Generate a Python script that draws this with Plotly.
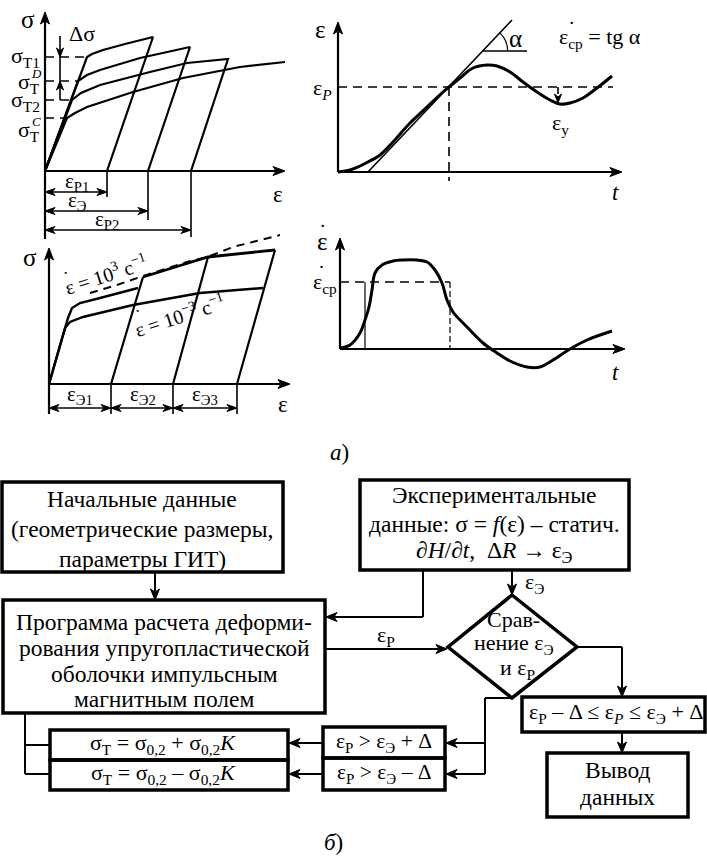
import math
import plotly.graph_objects as go

W, H = 707, 857
FONT = "Liberation Serif, Times New Roman, Times, serif"

# ---------------- data (panel-local units, origin at axis crossing) ----------------
# Panel a1: loading / unloading sigma-epsilon curves
a1_levels = {"T1": 114, "D": 90, "T2": 71, "C": 53}
a1_yield_x = {"T1": 42, "D": 33, "T2": 27, "C": 22}
a1_eps_marks = [62, 103, 146]          # eps_P1, eps_E, eps_P2
a1_c1_x = [0, 42, 47, 58, 80, 108, 62]
a1_c1_y = [0, 114, 117, 121, 127, 134, 0]
a1_c2_x = [0, 33, 42, 55, 95, 145, 103]
a1_c2_y = [0, 90, 96, 101, 113, 124, 0]
a1_c3_x = [0, 27, 36, 55, 105, 142, 183, 146]
a1_c3_y = [0, 71, 78, 86, 99, 108, 112, 0]
a1_c4_x = [0, 22, 30, 42, 88, 138, 195, 240]
a1_c4_y = [0, 53, 58, 64, 79, 93, 104, 109]

# Panel a2: strain vs time
a2_eps_P = 85
a2_t_P = 111
a2_curve_x = [0, 12, 22, 30, 42, 55, 72, 89, 105, 111, 122, 135, 149, 159, 172, 185, 199, 212, 222, 232, 245, 259, 274]
a2_curve_y = [0, 2, 6, 10, 17, 30, 49, 65, 80, 85, 94, 104, 107, 106, 100, 90, 80, 72, 68, 69, 74, 84, 96]
a2_tangent_x = [30, 174]
a2_tangent_y = [0, 152]

# Panel a3: static / dynamic curves with rate jumps
a3_eps_marks = [62, 124, 188]
a3_up_x = [0, 19, 23, 31, 51, 71, 89]
a3_up_y = [0, 66, 76, 81, 86, 91, 96]
a3_low_x = [0, 16, 21, 34, 84, 151, 214]
a3_low_y = [0, 56, 62, 67, 79, 91, 96]
a3_top_x = [94, 159, 226]
a3_top_y = [107, 127, 134]
a3_dash_x = [41, 68, 91, 138, 158, 184, 231]
a3_dash_y = [91, 99, 107, 122, 127, 137, 149]
a3_unload_top_x = [94, 159, 226]
a3_unload_top_y = [107, 127, 134]

# Panel a4: strain rate vs time
a4_rate_avg = 67
a4_t1, a4_t2 = 25, 110
a4_curve_x = [0, 10, 20, 25, 29, 32, 35, 42, 53, 63, 77, 87, 95, 102, 107, 113, 127, 143, 157, 170, 187, 200, 213, 230, 247, 272]
a4_curve_y = [1, 4, 16, 29, 42, 59, 76, 84, 88, 89, 89, 87, 79, 66, 49, 37, 22, 6, -4, -12, -18, -18, -11, 0, 9, 18]

# ---------------- helpers ----------------
shapes, annotations, traces = [], [], []
heads = {}


def line(ref, x0, y0, x1, y1, w=2.0, dash="solid"):
    shapes.append(dict(type="line", xref=ref[0], yref=ref[1], x0=x0, y0=y0, x1=x1, y1=y1,
                       line=dict(color="black", width=w, dash=dash), layer="above"))


def head(ref, tx, ty, dx, dy, L=10, hw=4.0):
    n = math.hypot(dx, dy)
    dx, dy = dx / n, dy / n
    bx, by = tx - dx * L, ty - dy * L
    px, py = -dy, dx
    xs, ys = heads.setdefault(ref, ([], []))
    xs += [tx, bx + px * hw, bx + dx * 3, bx - px * hw, tx, None]
    ys += [ty, by + py * hw, by + dy * 3, by - py * hw, ty, None]


def arrow(ref, x0, y0, x1, y1, w=2.0, L=11, hw=4.5):
    dx, dy = x1 - x0, y1 - y0
    n = math.hypot(dx, dy)
    line(ref, x0, y0, x1 - dx / n * (L - 2), y1 - dy / n * (L - 2), w)
    head(ref, x1, y1, dx, dy, L, hw)


def dbl(ref, x0, y0, x1, y1, w=1.6):
    dx, dy = x1 - x0, y1 - y0
    n = math.hypot(dx, dy)
    line(ref, x0 + dx / n * 8, y0 + dy / n * 8, x1 - dx / n * 8, y1 - dy / n * 8, w)
    head(ref, x1, y1, dx, dy, 10, 3.5)
    head(ref, x0, y0, -dx, -dy, 10, 3.5)


def text(ref, x, y, s, size=21, angle=0, xanchor="center", yanchor="middle"):
    annotations.append(dict(xref=ref[0], yref=ref[1], x=x, y=y, text=s, showarrow=False,
                            font=dict(family=FONT, size=size, color="black"),
                            textangle=angle, xanchor=xanchor, yanchor=yanchor))


def curve(ax, xs, ys, w=2.0, shape="linear", dash="solid"):
    traces.append(go.Scatter(x=xs, y=ys, mode="lines", xaxis=ax[0], yaxis=ax[1],
                             line=dict(color="black", width=w, shape=shape, dash=dash),
                             hoverinfo="skip", showlegend=False))


def rect(ref, x0, y0, x1, y1, w=3.5):
    shapes.append(dict(type="rect", xref=ref[0], yref=ref[1], x0=x0, y0=y0, x1=x1, y1=y1,
                       line=dict(color="black", width=w), fillcolor="rgba(0,0,0,0)", layer="above"))


# axis layout: (origin px, domain px box)
panels = {
    "a1": dict(ax=("x", "y"), o=(45, 171), box=(0, 300, 0, 242)),
    "a2": dict(ax=("x2", "y2"), o=(338, 172), box=(300, 707, 0, 242)),
    "a3": dict(ax=("x3", "y3"), o=(49, 384), box=(0, 300, 222, 432)),
    "a4": dict(ax=("x4", "y4"), o=(340, 349), box=(300, 707, 222, 432)),
}
layout_axes = {}
for k, p in panels.items():
    ox, oy = p["o"]
    l, r, t, b = p["box"]
    xn = "xaxis" + p["ax"][0][1:]
    yn = "yaxis" + p["ax"][1][1:]
    layout_axes[xn] = dict(domain=[l / W, r / W], range=[l - ox, r - ox], visible=False,
                           anchor=p["ax"][1], fixedrange=True)
    layout_axes[yn] = dict(domain=[1 - b / H, 1 - t / H], range=[oy - b, oy - t], visible=False,
                           anchor=p["ax"][0], fixedrange=True)
layout_axes["xaxis5"] = dict(domain=[0, 1], range=[0, W], visible=False, anchor="y5", fixedrange=True)
layout_axes["yaxis5"] = dict(domain=[0, 1], range=[H, 0], visible=False, anchor="x5", fixedrange=True)

R1, R2, R3, R4, RF = ("x", "y"), ("x2", "y2"), ("x3", "y3"), ("x4", "y4"), ("x5", "y5")
DASH = "9px,6px"

# ---------------- panel a1 ----------------
line(R1, 0, -68, 0, 151, 2.2)
head(R1, 0, 159, 0, 1, 12, 4.5)
line(R1, 0, 0, 232, 0, 2.2)
head(R1, 240, 0, 1, 0, 12, 4.5)
for key in a1_levels:
    line(R1, 0, a1_levels[key], a1_yield_x[key], a1_levels[key], 1.6, DASH)
for xs, ys in [(a1_c1_x, a1_c1_y), (a1_c2_x, a1_c2_y), (a1_c3_x, a1_c3_y), (a1_c4_x, a1_c4_y)]:
    curve(R1, xs, ys, 2.2)
# delta sigma
line(R1, 15, 135, 15, 71, 1.6)
head(R1, 15, a1_levels["T1"], 0, -1, 9, 3.5)
head(R1, 15, a1_levels["D"], 0, 1, 9, 3.5)
text(R1, 37, 138, "Δσ", 22)
# dimension lines
for e, yy, tick in zip(a1_eps_marks, [-21, -40, -59], [-26, -49, -66]):
    dbl(R1, 0, yy, e, yy)
    line(R1, e, 0, e, tick, 1.6)
text(R1, 32, -11, "ε<sub>Р1</sub>", 21)
text(R1, 32, -30, "ε<sub>Э</sub>", 21)
text(R1, 62, -49, "ε<sub>Р2</sub>", 21)
text(R1, 233, -23, "ε", 23)
text(R1, -17, 152, "σ", 25)
text(R1, -3, a1_levels["T1"], "σ<sub>Т1</sub>", 22, xanchor="right")
text(R1, -3, a1_levels["D"] - 2, "σ<sub>Т</sub>", 22, xanchor="right")
text(R1, -9, a1_levels["D"] + 8, "<i>D</i>", 13)
text(R1, -3, a1_levels["T2"] - 1, "σ<sub>Т2</sub>", 22, xanchor="right")
text(R1, -3, a1_levels["C"] - 13, "σ<sub>Т</sub>", 22, xanchor="right")
text(R1, -9, a1_levels["C"] - 3, "<i>C</i>", 13)

# ---------------- panel a2 ----------------
line(R2, 0, 0, 0, 140, 2.2)
head(R2, 0, 150, 0, 1, 12, 4.5)
line(R2, 0, 0, 274, 0, 2.2)
head(R2, 284, 0, 1, 0, 12, 4.5)
line(R2, 0, a2_eps_P, 275, a2_eps_P, 1.6, DASH)
line(R2, a2_t_P, a2_eps_P, a2_t_P, -9, 1.6, DASH)
curve(R2, a2_tangent_x, a2_tangent_y, 1.6)
ang = math.atan2(a2_tangent_y[1] - a2_tangent_y[0], a2_tangent_x[1] - a2_tangent_x[0])
cx = a2_tangent_x[0] + 121 / math.tan(ang)
cy = 121
line(R2, cx, cy, 189, cy, 1.6)
rr = 25
arc = f"M {cx + rr},{cy} Q {cx + rr},{cy + rr * math.tan(ang / 2)} {cx + rr * math.cos(ang)},{cy + rr * math.sin(ang)}"
shapes.append(dict(type="path", xref="x2", yref="y2", path=arc, line=dict(color="black", width=1.2)))
curve(R2, a2_curve_x, a2_curve_y, 3.0, "spline")
line(R2, 220, a2_eps_P, 220, 78, 1.6)
head(R2, 220, 69, 0, -1, 9, 3.5)
text(R2, 222, 48, "ε<sub>у</sub>", 22)
text(R2, 177, 134, "α", 25)
text(R2, 262, 134, "ε<sub>ср</sub> = tg α", 22)
text(R2, 233, 144, "˙", 22)
text(R2, -18, 143, "ε", 25)
text(R2, -16, 83, "ε<sub><i>P</i></sub>", 22)
text(R2, 277, -20, "<i>t</i>", 23)

# ---------------- panel a3 ----------------
line(R3, 0, -30, 0, 126, 2.2)
head(R3, 0, 136, 0, 1, 12, 4.5)
line(R3, 0, 0, 231, 0, 2.2)
head(R3, 241, 0, 1, 0, 12, 4.5)
curve(R3, a3_up_x, a3_up_y, 2.4)
curve(R3, a3_low_x, a3_low_y, 2.4)
curve(R3, a3_top_x, a3_top_y, 2.8)
curve(R3, a3_dash_x, a3_dash_y, 2.0, dash="8px,6px")
for e, tx, ty in zip(a3_eps_marks, a3_unload_top_x, a3_unload_top_y):
    curve(R3, [e, tx], [0, ty], 2.2)
prev = 0
for e in a3_eps_marks:
    dbl(R3, prev, -24, e, -24)
    line(R3, e, 0, e, -30, 1.6)
    prev = e
text(R3, 31, -11, "ε<sub>Э1</sub>", 21)
text(R3, 94, -11, "ε<sub>Э2</sub>", 21)
text(R3, 156, -11, "ε<sub>Э3</sub>", 21)
text(R3, 234, -20, "ε", 23)
text(R3, -19, 127, "σ", 25)
text(R3, 56, 110, "ε = 10<sup>3</sup> с<sup>−1</sup>", 20, angle=-18)
text(R3, 18, 106, "˙", 20, angle=-18)
text(R3, 130, 69, "ε = 10<sup>−3</sup> с<sup>−1</sup>", 20, angle=-18)
text(R3, 90, 68, "˙", 20, angle=-18)

# ---------------- panel a4 ----------------
line(R4, 0, 0, 0, 101, 2.2)
head(R4, 0, 111, 0, 1, 12, 4.5)
line(R4, 0, 0, 275, 0, 2.2)
head(R4, 285, 0, 1, 0, 12, 4.5)
line(R4, 0, a4_rate_avg, a4_t2, a4_rate_avg, 1.6, DASH)
line(R4, a4_t1, a4_rate_avg, a4_t1, 0, 1.2)
line(R4, a4_t2, a4_rate_avg, a4_t2, 0, 1.2, "6px,3px")
curve(R4, a4_curve_x, a4_curve_y, 3.0, "spline")
text(R4, -18, 108, "ε", 25)
text(R4, -18, 118, "˙", 22)
text(R4, -15, 66, "ε<sub>ср</sub>", 22)
text(R4, -19, 76, "˙", 21)
text(R4, 275, -23, "<i>t</i>", 23)

text(RF, 339, 452, "<i>а</i>)", 23)

# ---------------- flowchart (pixel coords, y down) ----------------
FS = 23.5
FM = 22
rect(RF, 2, 482, 283, 572)
text(RF, 142, 499, "Начальные данные", FS)
text(RF, 142, 529, "(геометрические размеры,", FS)
text(RF, 142, 559, "параметры ГИТ)", FS)
arrow(RF, 155, 572, 155, 600)

rect(RF, 360, 480, 629, 570)
text(RF, 494, 495, "Экспериментальные", FS)
text(RF, 494, 524, "данные: σ = <i>f</i>(ε) – статич.", FS)
text(RF, 494, 552, "∂<i>H</i>/∂<i>t</i>,\u00a0\u00a0Δ<i>R</i> → ε<sub>Э</sub>", FS)

rect(RF, 3, 600, 325, 713)
text(RF, 164, 622, "Программа расчета деформи-", FS)
text(RF, 164, 648, "рования упругопластической", FS)
text(RF, 164, 674, "оболочки импульсным", FS)
text(RF, 164, 699, "магнитным полем", FS)

line(RF, 423, 570, 423, 617)
arrow(RF, 423, 617, 326, 617)
arrow(RF, 325, 649, 447, 649)
text(RF, 386, 636, "ε<sub>Р</sub>", 22)
arrow(RF, 512, 570, 512, 595)
text(RF, 534, 583, "ε<sub>Э</sub>", 22)

shapes.append(dict(type="path", xref="x5", yref="y5",
                   path="M 512,595 L 577,647 L 512,698 L 448,647 Z",
                   line=dict(color="black", width=3.5), layer="above"))
text(RF, 513, 619, "Срав-", 22)
text(RF, 514, 644, "нение ε<sub>Э</sub>", 22)
text(RF, 517, 669, "и ε<sub>Р</sub>", 22)

line(RF, 577, 647, 622, 647)
arrow(RF, 622, 647, 622, 697)
rect(RF, 522, 697, 705, 732)
text(RF, 616, 713, "ε<sub>Р</sub> – Δ ≤ ε<sub><i>P</i></sub> ≤ ε<sub>Э</sub> + Δ", FM)
arrow(RF, 622, 732, 622, 753)
rect(RF, 547, 753, 688, 817)
text(RF, 617, 770, "Вывод", FS)
text(RF, 617, 797, "данных", FS)

line(RF, 512, 698, 485, 698)
line(RF, 485, 698, 485, 774)
arrow(RF, 485, 743, 446, 743)
arrow(RF, 485, 774, 446, 774)
rect(RF, 323, 727, 445, 758)
rect(RF, 323, 758, 445, 790)
text(RF, 384, 742, "ε<sub>Р</sub> > ε<sub>Э</sub> + Δ", 21.5)
text(RF, 384, 773, "ε<sub>Р</sub> > ε<sub>Э</sub> – Δ", 21.5)
arrow(RF, 323, 743, 289, 743)
arrow(RF, 323, 774, 289, 774)

rect(RF, 50, 730, 288, 760)
rect(RF, 50, 760, 288, 790)
text(RF, 163, 744, "σ<sub>Т</sub> = σ<sub>0,2</sub> + σ<sub>0,2</sub><i>K</i>", FM)
text(RF, 163, 774, "σ<sub>Т</sub> = σ<sub>0,2</sub> – σ<sub>0,2</sub><i>K</i>", FM)
line(RF, 25, 713, 25, 774)
line(RF, 25, 745, 50, 745)
line(RF, 25, 774, 50, 774)

text(RF, 333, 842, "<i>б</i>)", 23)

for ref, (hx, hy) in heads.items():
    traces.append(go.Scatter(x=hx, y=hy, mode="lines", fill="toself", fillcolor="black",
                             xaxis=ref[0], yaxis=ref[1], line=dict(color="black", width=1),
                             hoverinfo="skip", showlegend=False))

fig = go.Figure(data=traces)
fig.update_layout(width=W, height=H, margin=dict(l=0, r=0, t=0, b=0),
                  paper_bgcolor="white", plot_bgcolor="rgba(0,0,0,0)",
                  font=dict(family=FONT, color="black"),
                  shapes=shapes, annotations=annotations, showlegend=False, **layout_axes)
fig.write_html("out.html")
